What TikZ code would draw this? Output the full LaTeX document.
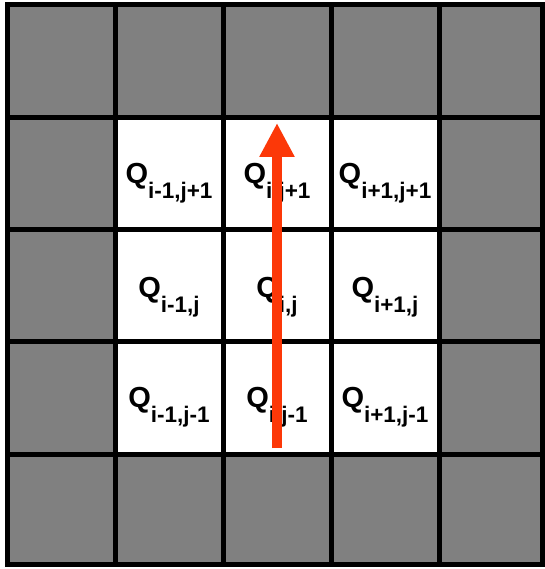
\documentclass[tikz,border=0pt]{standalone}
\usepackage{fontspec}
\setmainfont{Liberation Sans}
\usetikzlibrary{arrows.meta}
\definecolor{cellgray}{RGB}{128,128,128}
\definecolor{flowred}{RGB}{252,56,8}
\newcommand{\subfont}{\fontsize{22.5pt}{22.5pt}\selectfont}
\newcommand{\qsub}[1]{Q\raisebox{-15pt}{\subfont #1}}

\begin{document}
\begin{tikzpicture}[x=1pt,y=-1pt]
\tikzset{
    gridline/.style={line width=5pt,black},
    qtext/.style={anchor=base,inner sep=0pt,font=\fontsize{29pt}{29pt}\selectfont\bfseries},
    flow/.style={-{Triangle[width=33pt,length=34pt]},line width=10pt,flowred}
}
\useasboundingbox (0,0) rectangle (544,569);
\fill[white] (0,0) rectangle (544,569);
% outer ring grey, inner 3x3 white
\fill[cellgray] (7,5) rectangle (542,564);
\fill[white] (115,118) rectangle (439,454);
\foreach \x in {115,223,331,439} \draw[gridline] (\x,5) -- (\x,564);
\foreach \y in {118,229,341,454} \draw[gridline] (7,\y) -- (542,\y);
\draw[gridline] (7,5) rectangle (542,564);

\node[qtext] (qnw) at (169,183) {\qsub{i-1,j+1}};
\node[qtext] (qn)  at (277,183) {\qsub{i,j+1}};
\node[qtext] (qne) at (385,183) {\qsub{i+1,j+1}};
\node[qtext] (qw)  at (169,297) {\qsub{i-1,j}};
\node[qtext] (qc)  at (277,297) {\qsub{i,j}};
\node[qtext] (qe)  at (385,297) {\qsub{i+1,j}};
\node[qtext] (qsw) at (169,407) {\qsub{i-1,j-1}};
\node[qtext] (qs)  at (277,407) {\qsub{i,j-1}};
\node[qtext] (qse) at (385,407) {\qsub{i+1,j-1}};

\coordinate (tail) at (277,448);
\coordinate (tip) at (277,123);
\draw[flow] (tail) -- (tip);
\end{tikzpicture}
\end{document}
